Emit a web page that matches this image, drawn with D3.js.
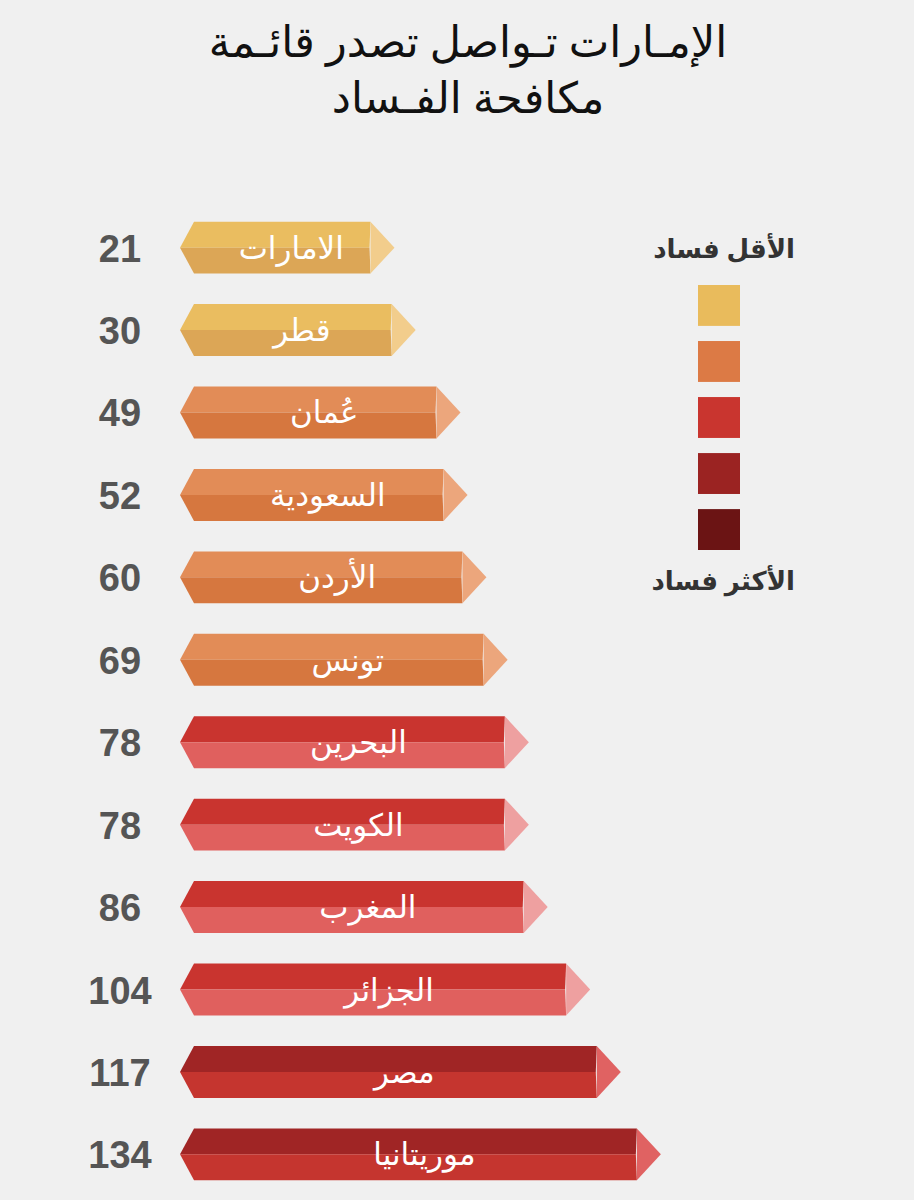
<!DOCTYPE html>
<html><head><meta charset="utf-8">
<script src="https://cdn.jsdelivr.net/npm/d3@7"></script>
<style>body{margin:0;background:#f0f0f0}</style>
</head><body>
<svg id="chart" width="914" height="1200"></svg>
<script>
var countries = ["الامارات","قطر","عُمان","السعودية","الأردن","تونس","البحرين","الكويت","المغرب","الجزائر","مصر","موريتانيا"];
var ranks = [21,30,49,52,60,69,78,78,86,104,117,134];
var groups = [0,0,1,1,1,1,2,2,2,2,3,3];
var legendColors = ["#e9bb5c","#dc7a45","#c9352f","#9b2322","#6b1414"];
var legendLabels = ["الأقل فساد","الأكثر فساد"];

// top face, bottom face, cap
var palettes = [
  ["#eabd60","#dca656","#f2cd8c"],
  ["#e28c57","#d6773f","#eca67c"],
  ["#c9342f","#e0605e","#eea0a0"],
  ["#a02525","#c5352f","#e06262"]
];

var svg = d3.select("#chart");
svg.append("rect").attr("width",914).attr("height",1200).attr("fill","#f0f0f0");

var font = "'Noto Sans', 'DejaVu Sans', sans-serif";
svg.selectAll(".title").data(["الإمـارات تـواصل تصدر قائـمة","مكافحة الفـساد"]).enter()
  .append("text").attr("x",468).attr("y",(d,i)=>57+i*56)
  .attr("text-anchor","middle").attr("font-family",font).attr("font-size",43)
  .attr("fill","#111").text(d=>d);

var x = d3.scaleLinear().domain([0,140]).range([345,675]);
var y = d3.scaleBand().domain(d3.range(ranks.length)).range([206,1196]).paddingInner(0.37).paddingOuter(0.19);
var x0 = 180, tipw = 14, capw = 24;

var g = svg.selectAll(".bar").data(ranks).enter().append("g").attr("class","bar");
g.each(function(d,i){
  var s = d3.select(this), t = y(i), h = y.bandwidth(), m = t+h/2, b = t+h;
  var r = x(d), cx = r-capw, p = palettes[groups[i]];
  s.append("path").attr("d",`M${x0},${m}L${x0+tipw},${t}L${cx},${t}L${cx-1},${m}Z`).attr("fill",p[0]);
  s.append("path").attr("d",`M${x0},${m}L${cx-1},${m}L${cx},${b}L${x0+tipw},${b}Z`).attr("fill",p[1]);
  s.append("path").attr("d",`M${cx},${t}L${r},${m}L${cx},${b}Z`).attr("fill",p[2]);
  s.append("text").attr("x",(x0+cx)/2+16).attr("y",m+11).attr("text-anchor","middle")
    .attr("font-family",font).attr("font-size",31).attr("fill","#fff").text(countries[i]);
  s.append("text").attr("x",120).attr("y",m+14).attr("text-anchor","middle")
    .attr("font-family","'Liberation Sans', Arial, sans-serif").attr("font-weight","bold")
    .attr("font-size",38).attr("fill","#555").text(d);
});

var ly = d3.scaleBand().domain(d3.range(legendColors.length)).range([285,550]).paddingInner(0.27);
svg.selectAll(".lg").data(legendColors).enter().append("rect")
  .attr("x",698).attr("y",(d,i)=>ly(i)).attr("width",42).attr("height",ly.bandwidth()).attr("fill",d=>d);
svg.selectAll(".ll").data(legendLabels).enter().append("text")
  .attr("x",795).attr("y",(d,i)=>i?590:258).attr("text-anchor","end")
  .attr("font-family",font).attr("font-weight","bold").attr("font-size",26).attr("fill","#333").text(d=>d);
</script>
</body></html>
